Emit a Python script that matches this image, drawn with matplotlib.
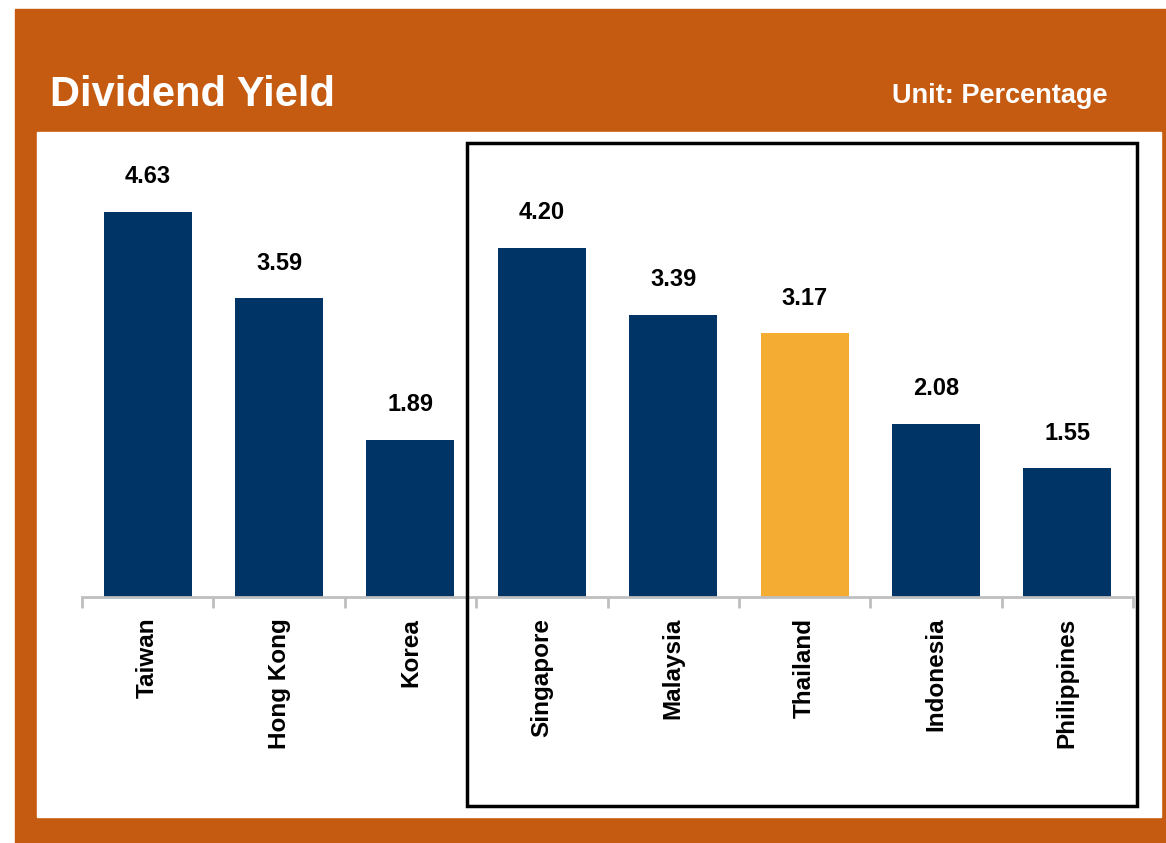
import matplotlib.pyplot as plt
from matplotlib.patches import Rectangle
import numpy as np

plt.rcParams['font.family'] = ['Liberation Sans', 'DejaVu Sans']

countries = ['Taiwan', 'Hong Kong', 'Korea', 'Singapore', 'Malaysia',
             'Thailand', 'Indonesia', 'Philippines']
yields = [4.63, 3.59, 1.89, 4.20, 3.39, 3.17, 2.08, 1.55]
highlight = 'Thailand'

NAVY = '#003366'
GOLD = '#F4AC33'
RUST = '#C55A11'

W, H = 1166, 843
fig = plt.figure(figsize=(W / 100, H / 100), dpi=100)
fig.patch.set_facecolor('white')


def fx(px):
    return px / W


def fy(py):
    return 1 - py / H


# orange frame and white panel
fig.patches.append(Rectangle((fx(15), 0), fx(1166 - 15), fy(9), transform=fig.transFigure,
                             color=RUST, zorder=0))
fig.patches.append(Rectangle((fx(37), fy(817)), fx(1161 - 37), fy(132) - fy(817),
                             transform=fig.transFigure, color='white', zorder=1))

fig.text(fx(50), fy(95), 'Dividend Yield', color='white', fontsize=30,
         fontweight='bold', va='center', ha='left')
fig.text(fx(1108), fy(96), 'Unit: Percentage', color='white', fontsize=19.5,
         fontweight='bold', va='center', ha='right')

# chart area
ax = fig.add_axes([fx(82), fy(597), fx(1133 - 82), fy(143) - fy(597)])
ax.set_facecolor('none')
ax.set_zorder(3)

x = np.arange(len(countries))
colors = [GOLD if c == highlight else NAVY for c in countries]
bars = ax.bar(x, yields, width=0.67, color=colors)

for b, v in zip(bars, yields):
    ax.annotate(f'{v:.2f}', (b.get_x() + b.get_width() / 2, v),
                xytext=(0, 35), textcoords='offset pixels', ha='center',
                va='center', fontsize=17, fontweight='bold')

ax.set_xlim(-0.5, len(countries) - 0.5)
ax.set_ylim(0, (597 - 143) / 83.2)
ax.set_yticks([])
for s in ['top', 'right', 'left']:
    ax.spines[s].set_visible(False)
ax.spines['bottom'].set_color('#BFBFBF')
ax.spines['bottom'].set_linewidth(2)

ax.set_xticks(x)
ax.set_xticklabels(countries, rotation=90, fontsize=17.5, fontweight='bold', va='top')
ax.tick_params(axis='x', which='major', length=0, pad=15)
ax.set_xticks(np.arange(len(countries) + 1) - 0.5, minor=True)
ax.tick_params(axis='x', which='minor', length=8, width=2, color='#BFBFBF')

# box around the southeast asia group
fig.patches.append(Rectangle((fx(467), fy(806)), fx(1137 - 467), fy(143) - fy(806),
                             transform=fig.transFigure, fill=False, edgecolor='black',
                             linewidth=2.5, zorder=4))

fig.savefig('out.png', dpi=100)
